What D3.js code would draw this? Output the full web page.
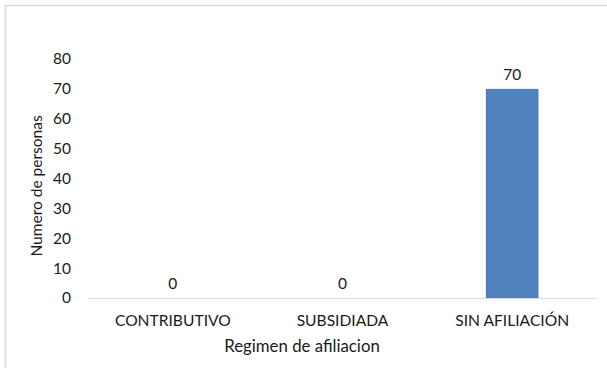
<!DOCTYPE html>
<html>
<head>
<meta charset="utf-8">
<script src="https://cdn.jsdelivr.net/npm/d3@7"></script>
<style>
  html, body { margin: 0; padding: 0; background: #fff; }
  svg { display: block; font-family: Lato, "Open Sans", sans-serif; }
</style>
</head>
<body>
<svg id="chart" width="607" height="368"></svg>
<script>
// Afiliación al régimen de salud
const categories = ["CONTRIBUTIVO", "SUBSIDIADA", "SIN AFILIACIÓN"];
const personas = [0, 0, 70];
const yTicks = [0, 10, 20, 30, 40, 50, 60, 70, 80];
const xTitle = "Regimen de afiliacion";
const yTitle = "Numero de personas";

const svg = d3.select("#chart");
const plot = { left: 88, right: 597, top: 59, bottom: 298 };

// chart area frame
svg.append("rect")
  .attr("x", 5.5).attr("y", 5.5)
  .attr("width", 800).attr("height", 500)
  .attr("fill", "#fff")
  .attr("stroke", "#d9d9d9")
  .attr("stroke-width", 1.5);

const x = d3.scaleBand().domain(categories).range([plot.left, plot.right]).paddingInner(0).paddingOuter(0);
const y = d3.scaleLinear().domain([0, 80]).range([plot.bottom, plot.top]);

// y tick labels (no axis line, no gridlines)
const yAxis = svg.append("g")
  .attr("transform", `translate(${plot.left},0)`)
  .call(d3.axisLeft(y).tickValues(yTicks).tickSize(0).tickPadding(17));
yAxis.select(".domain").remove();
yAxis.selectAll("text")
  .attr("font-family", "Lato, 'Open Sans', sans-serif")
  .attr("font-size", 15.5)
  .attr("fill", "#1a1a1a");

// bars
const barW = 52.6;
svg.append("g").selectAll("rect")
  .data(categories)
  .join("rect")
  .attr("x", (d) => x(d) + x.bandwidth() / 2 - barW / 2)
  .attr("y", (d, i) => y(personas[i]))
  .attr("width", barW)
  .attr("height", (d, i) => y(0) - y(personas[i]))
  .attr("fill", "#4f81bd");

// category axis
const xAxis = svg.append("g")
  .attr("transform", `translate(0,${plot.bottom})`)
  .call(d3.axisBottom(x).tickSize(0).tickPadding(17));
xAxis.select(".domain").attr("stroke", "#d9d9d9").attr("stroke-width", 1.2);
xAxis.selectAll("text")
  .attr("font-family", "Lato, 'Open Sans', sans-serif")
  .attr("font-size", 15.6)
  .attr("fill", "#1a1a1a");

// value labels
svg.append("g").selectAll("text")
  .data(categories)
  .join("text")
  .attr("x", (d) => x(d) + x.bandwidth() / 2)
  .attr("y", (d, i) => y(personas[i]) - 9)
  .attr("text-anchor", "middle")
  .attr("font-size", 15.5)
  .attr("fill", "#1a1a1a")
  .text((d, i) => personas[i]);

// axis titles
svg.append("text")
  .attr("x", 302).attr("y", 352)
  .attr("text-anchor", "middle")
  .attr("font-size", 16.8)
  .attr("fill", "#1a1a1a")
  .text(xTitle);

svg.append("text")
  .attr("transform", "translate(42,186) rotate(-90)")
  .attr("text-anchor", "middle")
  .attr("font-size", 15.5)
  .attr("fill", "#1a1a1a")
  .text(yTitle);
</script>
</body>
</html>
